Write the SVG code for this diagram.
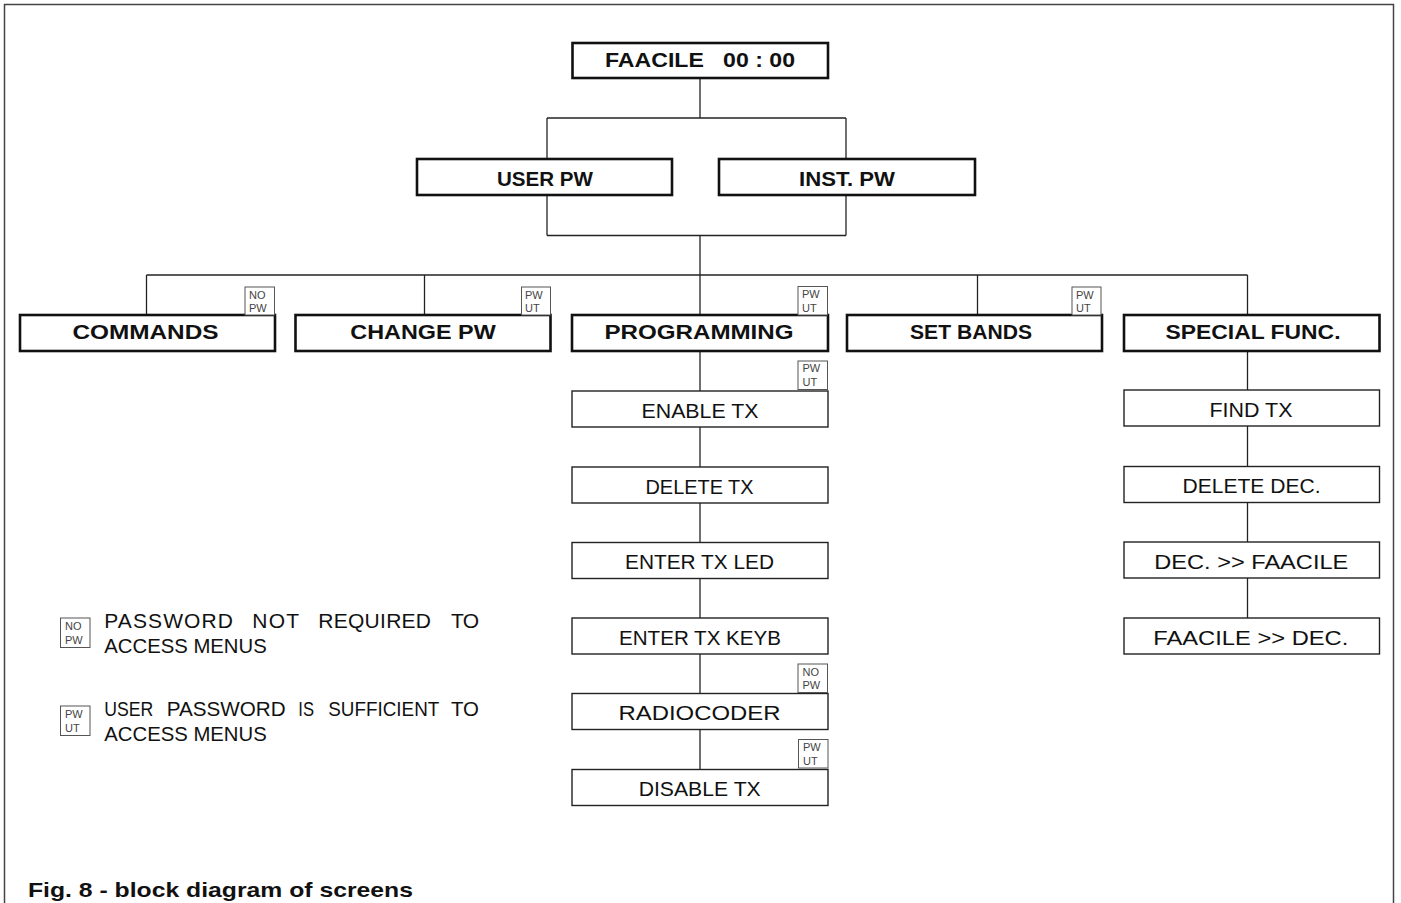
<svg xmlns="http://www.w3.org/2000/svg" width="1401" height="903" viewBox="0 0 1401 903">
<style>
.bg{fill:#fff}
.frame{fill:none;stroke:#444;stroke-width:1.5}
.main{fill:#fff;stroke:#111;stroke-width:2.6}
.sub{fill:#fff;stroke:#222;stroke-width:1.4}
.badge{fill:#fff;stroke:#555;stroke-width:1}
.conn line{stroke:#222;stroke-width:1.3}
.tb{font-family:"Liberation Sans",Arial,sans-serif;font-weight:bold;font-size:21px;fill:#111;text-anchor:middle}
.tr{font-family:"Liberation Sans",Arial,sans-serif;font-size:21px;fill:#111;text-anchor:middle}
.bt{font-family:"Liberation Sans",Arial,sans-serif;font-size:11px;fill:#444}
.lg{font-family:"Liberation Sans",Arial,sans-serif;font-size:21px;fill:#111}
.cap{font-family:"Liberation Sans",Arial,sans-serif;font-weight:bold;font-size:21px;fill:#111}
</style>
<rect class="bg" x="0" y="0" width="1401" height="903"/>
<rect class="frame" x="4.5" y="4.5" width="1389" height="930"/>

<g id="connectors" class="conn">
<line x1="700" y1="78" x2="700" y2="118"/>
<line x1="547" y1="118" x2="846" y2="118"/>
<line x1="547" y1="118" x2="547" y2="159"/>
<line x1="846" y1="118" x2="846" y2="159"/>
<line x1="547" y1="195" x2="547" y2="235.5"/>
<line x1="846" y1="195" x2="846" y2="235.5"/>
<line x1="547" y1="235.5" x2="846" y2="235.5"/>
<line x1="700" y1="235.5" x2="700" y2="275"/>
<line x1="146.5" y1="275" x2="1247.5" y2="275"/>
<line x1="146.5" y1="275" x2="146.5" y2="315"/>
<line x1="424.5" y1="275" x2="424.5" y2="315"/>
<line x1="700" y1="275" x2="700" y2="315"/>
<line x1="977.5" y1="275" x2="977.5" y2="315"/>
<line x1="1247.5" y1="275" x2="1247.5" y2="315"/>
<line x1="700" y1="351" x2="700" y2="391"/>
<line x1="700" y1="427" x2="700" y2="467"/>
<line x1="700" y1="503" x2="700" y2="542.5"/>
<line x1="700" y1="578.5" x2="700" y2="618"/>
<line x1="700" y1="654" x2="700" y2="693.5"/>
<line x1="700" y1="729.5" x2="700" y2="769.5"/>
<line x1="1247.5" y1="351" x2="1247.5" y2="390"/>
<line x1="1247.5" y1="426" x2="1247.5" y2="466.5"/>
<line x1="1247.5" y1="502.5" x2="1247.5" y2="542"/>
<line x1="1247.5" y1="578" x2="1247.5" y2="618"/>
</g>

<g id="faacile"><rect class="main" x="572.5" y="43" width="255.5" height="35"/><text class="tb" x="700" y="66.5" textLength="190" lengthAdjust="spacingAndGlyphs" xml:space="preserve">FAACILE   00 : 00</text></g>
<g id="user-pw"><rect class="main" x="417" y="159" width="255" height="36"/><text class="tb" x="545" y="186" textLength="96" lengthAdjust="spacingAndGlyphs">USER PW</text></g>
<g id="inst-pw"><rect class="main" x="719" y="159" width="256" height="36"/><text class="tb" x="847" y="186" textLength="96" lengthAdjust="spacingAndGlyphs">INST. PW</text></g>

<g id="commands"><rect class="main" x="20" y="315" width="255" height="36"/><text class="tb" x="145.5" y="338.5" textLength="146" lengthAdjust="spacingAndGlyphs">COMMANDS</text>
<rect class="badge" x="245" y="287" width="29.5" height="28"/><text class="bt" x="249" y="298.5">NO</text><text class="bt" x="249" y="312">PW</text></g>
<g id="change-pw"><rect class="main" x="295.5" y="315" width="255" height="36"/><text class="tb" x="423" y="338.5" textLength="145.5" lengthAdjust="spacingAndGlyphs">CHANGE PW</text>
<rect class="badge" x="521.5" y="287" width="29" height="28"/><text class="bt" x="525" y="298.5">PW</text><text class="bt" x="525" y="312">UT</text></g>
<g id="programming"><rect class="main" x="572" y="315" width="256" height="36"/><text class="tb" x="699" y="338.5" textLength="189" lengthAdjust="spacingAndGlyphs">PROGRAMMING</text>
<rect class="badge" x="798" y="286.5" width="29.5" height="28.5"/><text class="bt" x="802" y="298">PW</text><text class="bt" x="802" y="312">UT</text></g>
<g id="set-bands"><rect class="main" x="847" y="315" width="255" height="36"/><text class="tb" x="971" y="338.5" textLength="122" lengthAdjust="spacingAndGlyphs">SET BANDS</text>
<rect class="badge" x="1072" y="287" width="29" height="28"/><text class="bt" x="1076" y="298.5">PW</text><text class="bt" x="1076" y="312">UT</text></g>
<g id="special-func"><rect class="main" x="1124" y="315" width="255.5" height="36"/><text class="tb" x="1253" y="338.5" textLength="175" lengthAdjust="spacingAndGlyphs">SPECIAL FUNC.</text></g>

<g id="enable-tx"><rect class="sub" x="572" y="391" width="256" height="36"/><text class="tr" x="700" y="417.5" textLength="117" lengthAdjust="spacingAndGlyphs">ENABLE TX</text>
<rect class="badge" x="798" y="361" width="29.5" height="28.5"/><text class="bt" x="802.5" y="372">PW</text><text class="bt" x="802.5" y="386">UT</text></g>
<g id="delete-tx"><rect class="sub" x="572" y="467" width="256" height="36"/><text class="tr" x="699.5" y="493.5" textLength="108" lengthAdjust="spacingAndGlyphs">DELETE TX</text></g>
<g id="enter-tx-led"><rect class="sub" x="572" y="542.5" width="256" height="36"/><text class="tr" x="699.5" y="569" textLength="149" lengthAdjust="spacingAndGlyphs">ENTER TX LED</text></g>
<g id="enter-tx-keyb"><rect class="sub" x="572" y="618" width="256" height="36"/><text class="tr" x="700" y="644.5" textLength="162" lengthAdjust="spacingAndGlyphs">ENTER TX KEYB</text></g>
<g id="radiocoder"><rect class="sub" x="572" y="693.5" width="256" height="36"/><text class="tr" x="699.5" y="720" textLength="162" lengthAdjust="spacingAndGlyphs">RADIOCODER</text>
<rect class="badge" x="798" y="664" width="29.5" height="28.5"/><text class="bt" x="802.5" y="675.5">NO</text><text class="bt" x="802.5" y="689">PW</text></g>
<g id="disable-tx"><rect class="sub" x="572" y="769.5" width="256" height="36"/><text class="tr" x="699.7" y="796" textLength="122" lengthAdjust="spacingAndGlyphs">DISABLE TX</text>
<rect class="badge" x="798.5" y="739.5" width="29.5" height="28.5"/><text class="bt" x="803" y="751">PW</text><text class="bt" x="803" y="765">UT</text></g>

<g id="find-tx"><rect class="sub" x="1124" y="390" width="255.5" height="36"/><text class="tr" x="1251" y="416.7" textLength="83" lengthAdjust="spacingAndGlyphs">FIND TX</text></g>
<g id="delete-dec"><rect class="sub" x="1124" y="466.5" width="255.5" height="36"/><text class="tr" x="1251.5" y="493" textLength="138" lengthAdjust="spacingAndGlyphs">DELETE DEC.</text></g>
<g id="dec-to-faacile"><rect class="sub" x="1124" y="542" width="255.5" height="36"/><text class="tr" x="1251.3" y="568.5" textLength="194" lengthAdjust="spacingAndGlyphs">DEC. &gt;&gt; FAACILE</text></g>
<g id="faacile-to-dec"><rect class="sub" x="1124" y="618" width="255.5" height="36"/><text class="tr" x="1250.8" y="644.5" textLength="195" lengthAdjust="spacingAndGlyphs">FAACILE &gt;&gt; DEC.</text></g>

<g id="legend-nopw">
<rect class="badge" x="60.5" y="618" width="29.5" height="29.5"/><text class="bt" x="65" y="630">NO</text><text class="bt" x="65" y="644">PW</text>
<text class="lg" x="104.3" y="628.3" textLength="128.7" lengthAdjust="spacing">PASSWORD</text>
<text class="lg" x="252.3" y="628.3" textLength="46.7" lengthAdjust="spacing">NOT</text>
<text class="lg" x="318.3" y="628.3" textLength="112.7" lengthAdjust="spacing">REQUIRED</text>
<text class="lg" x="451" y="628.3" textLength="28" lengthAdjust="spacing">TO</text>
<text class="lg" x="104.3" y="652.7" textLength="162.4" lengthAdjust="spacingAndGlyphs">ACCESS MENUS</text>
</g>
<g id="legend-pwut">
<rect class="badge" x="60.5" y="706" width="29.5" height="29.5"/><text class="bt" x="65" y="718">PW</text><text class="bt" x="65" y="732">UT</text>
<text class="lg" x="104.3" y="716" textLength="49" lengthAdjust="spacingAndGlyphs">USER</text>
<text class="lg" x="166.7" y="716" textLength="119" lengthAdjust="spacingAndGlyphs">PASSWORD</text>
<text class="lg" x="298.3" y="716" textLength="15.7" lengthAdjust="spacingAndGlyphs">IS</text>
<text class="lg" x="328.3" y="716" textLength="111" lengthAdjust="spacingAndGlyphs">SUFFICIENT</text>
<text class="lg" x="451" y="716" textLength="28" lengthAdjust="spacingAndGlyphs">TO</text>
<text class="lg" x="104.3" y="741" textLength="162.4" lengthAdjust="spacingAndGlyphs">ACCESS MENUS</text>
</g>

<text class="cap" x="28" y="896.7" textLength="385" lengthAdjust="spacingAndGlyphs">Fig. 8 - block diagram of screens</text>
</svg>
